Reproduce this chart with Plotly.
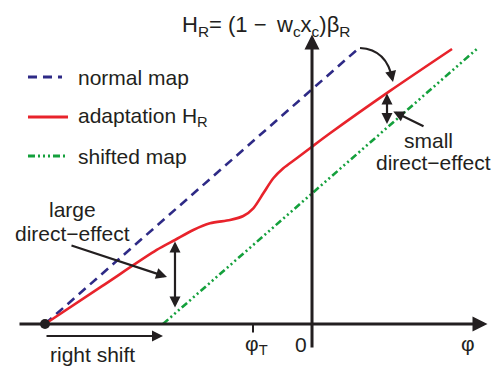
import plotly.graph_objects as go

# ---- data (schematic units) ----
phi_normal = [-8.9, 1.567]
h_normal = [0.0, 9.2]

phi_shift = [-4.967, 5.533]
h_shift = [0.0, 9.2]

phi_adapt = [-8.9, -7.0, -5.177, -4.567, -3.957, -3.4, -2.733, -2.29, -1.957,
             -1.623, -1.29, -0.957, -0.51, 0.0, 0.6, 2.6, 4.667]
h_adapt = [0.0, 1.26, 2.467, 2.8, 3.133, 3.357, 3.467, 3.6, 3.857,
           4.357, 4.857, 5.19, 5.523, 5.91, 6.357, 7.77, 9.167]

phi_T = -1.967
origin_phi = -8.9

legend_labels = ["normal map", "adaptation H<sub>R</sub>", "shifted map"]

INK = "#231f20"
BLUE = "#2e2a86"
RED = "#e8232b"
GREEN = "#14a03c"
FONT = "Liberation Sans, Arial, sans-serif"
GREEN_DASH = "7px,3px,2px,3px,2px,3px,2px,3px"
BLUE_DASH = "9px,6px"

fig = go.Figure()

fig.add_trace(go.Scatter(x=phi_normal, y=h_normal, mode="lines",
                         line=dict(color=BLUE, width=2.6, dash=BLUE_DASH), hoverinfo="skip"))
fig.add_trace(go.Scatter(x=phi_shift, y=h_shift, mode="lines",
                         line=dict(color=GREEN, width=2.6, dash=GREEN_DASH), hoverinfo="skip"))
fig.add_trace(go.Scatter(x=phi_adapt, y=h_adapt, mode="lines",
                         line=dict(color=RED, width=2.6, shape="spline", smoothing=0.8),
                         hoverinfo="skip"))

# legend samples
leg_y = [8.233, 6.9, 5.6]
leg_x1 = [-8.333, -8.133, -8.233]
styles = [dict(color=BLUE, width=3, dash=BLUE_DASH),
          dict(color=RED, width=3),
          dict(color=GREEN, width=3, dash=GREEN_DASH)]
for yv, x1, st in zip(leg_y, leg_x1, styles):
    fig.add_trace(go.Scatter(x=[-9.467, x1], y=[yv, yv], mode="lines", line=st, hoverinfo="skip"))

# origin dot
fig.add_trace(go.Scatter(x=[origin_phi], y=[0], mode="markers",
                         marker=dict(color=INK, size=10), hoverinfo="skip"))

annotations = []

def arrow(x, y, ax, ay, both=False, width=2.2, head=2):
    annotations.append(dict(x=x, y=y, ax=ax, ay=ay, xref="x", yref="y", axref="x", ayref="y",
                            text="", showarrow=True, arrowhead=head, arrowsize=1,
                            arrowwidth=width, arrowcolor=INK,
                            arrowside="end+start" if both else "end",
                            startarrowhead=head, startarrowsize=1))

def label(x, y, text, anchor="center", size=21):
    annotations.append(dict(x=x, y=y, xref="x", yref="y", text=text, showarrow=False,
                            xanchor=anchor, yanchor="middle",
                            font=dict(family=FONT, size=size, color=INK)))

# axes
arrow(5.85, 0, -9.8, 0, width=3)
arrow(0, 9.65, 0, -0.833, width=3)

# direct-effect double arrows
arrow(-4.567, 2.75, -4.567, 0.5, both=True)
arrow(2.5, 7.68, 2.5, 6.62, both=True)

# pointer arrows
arrow(-4.833, 1.567, -8.067, 2.633)
arrow(2.71, 7.08, 3.767, 6.567)
arrow(-4.967, -0.4, -8.9, -0.4)

# curved arrow head
arrow(2.7, 8.067, 2.66, 8.25)

# tick at phi_T
shapes = [dict(type="line", xref="x", yref="y", x0=phi_T, x1=phi_T, y0=0, y1=-0.28,
               line=dict(color=INK, width=2)),
          dict(type="path", xref="x", yref="y",
               path="M 1.6,9.2 Q 2.5,9.15 2.68,8.15",
               line=dict(color=INK, width=2.2))]

# texts
for yv, t in zip(leg_y, legend_labels):
    label(-7.867, yv, t, anchor="left")
label(-4.4, 9.93,
      "H<sub>R</sub>= (1 \u2212\u2009 w<sub>c</sub>x<sub>c</sub>)β<sub>R</sub>",
      anchor="left", size=22)
label(-7.967, 3.8, "large")
label(-8.0, 3.033, "direct−effect")
label(3.867, 6.133, "small")
label(4.033, 5.4, "direct−effect")
label(-7.333, -1.033, "right shift")
label(-1.867, -0.7, "φ<sub>T</sub>")
label(-0.367, -0.7, "0")
label(5.2, -0.65, "φ")

fig.update_layout(
    width=496, height=371,
    margin=dict(l=0, r=0, t=0, b=0),
    paper_bgcolor="white", plot_bgcolor="white",
    showlegend=False,
    xaxis=dict(range=[-10.4, 6.133], visible=False, fixedrange=True),
    yaxis=dict(range=[-1.567, 10.8], visible=False, fixedrange=True),
    annotations=annotations,
    shapes=shapes,
)

fig.write_html("out.html")
